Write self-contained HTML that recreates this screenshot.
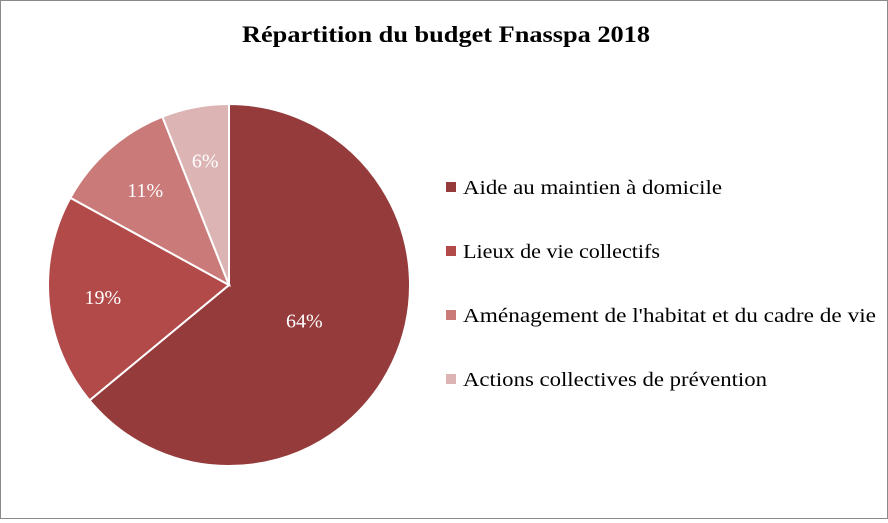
<!DOCTYPE html>
<html><head><meta charset="utf-8"><style>
body{margin:0;background:#fff;}
#c{position:relative;width:886px;height:517px;border:1px solid #8a8a8a;background:#fff;font-family:"Liberation Serif",serif;}
</style></head><body>
<div id="c">
<svg width="886" height="517">
<text x="241" y="41" font-size="23" font-weight="bold" fill="#000" textLength="408" lengthAdjust="spacingAndGlyphs" font-family="Liberation Serif, serif">Répartition du budget Fnasspa 2018</text>
<g id="slices"></g>
<g id="legend"></g>
</svg>
</div>
<script>
const categories=["Aide au maintien à domicile","Lieux de vie collectifs","Aménagement de l'habitat et du cadre de vie","Actions collectives de prévention"];
const values=[64,19,11,6];
const labels=["64%","19%","11%","6%"];
const colors=["#953b3b","#b24a49","#c97a79","#ddb4b4"];
const legendWidths=[259,197,413,304];
const NS="http://www.w3.org/2000/svg";
const cx=228,cy=284,r=181;
const total=values.reduce((a,b)=>a+b,0);
const sg=document.getElementById('slices'),lg=document.getElementById('legend');
function pt(a,rr){return [cx+rr*Math.sin(a),cy-rr*Math.cos(a)];}
let acc=0;
values.forEach((v,i)=>{
  const a0=acc/total*2*Math.PI,a1=(acc+v)/total*2*Math.PI;acc+=v;
  const p0=pt(a0,r),p1=pt(a1,r),large=(a1-a0)>Math.PI?1:0;
  const p=document.createElementNS(NS,'path');
  p.setAttribute('d',`M${cx},${cy} L${p0[0]},${p0[1]} A${r},${r} 0 ${large} 1 ${p1[0]},${p1[1]} Z`);
  p.setAttribute('fill',colors[i]);p.setAttribute('stroke','#fff');p.setAttribute('stroke-width','2');
  
  
  sg.appendChild(p);
  const m=(a0+a1)/2,lp=pt(m,r*(i===0?0.46:0.7));
  const t=document.createElementNS(NS,'text');
  t.setAttribute('x',lp[0]);t.setAttribute('y',lp[1]+7);t.setAttribute('text-anchor','middle');
  t.setAttribute('font-size','20');t.setAttribute('fill','#fff');t.setAttribute('font-family','Liberation Serif, serif');
  t.textContent=labels[i];
  
  
  sg.appendChild(t);
  const y=186+i*64;
  const g=document.createElementNS(NS,'g');
  
  
  const s=document.createElementNS(NS,'rect');
  s.setAttribute('x',445);s.setAttribute('y',y-5);s.setAttribute('width',10);s.setAttribute('height',10);s.setAttribute('fill',colors[i]);
  const lt=document.createElementNS(NS,'text');
  lt.setAttribute('x',462);lt.setAttribute('y',y+7);lt.setAttribute('font-size','20');lt.setAttribute('fill','#000');lt.setAttribute('font-family','Liberation Serif, serif');
  lt.setAttribute('textLength',legendWidths[i]);lt.setAttribute('lengthAdjust','spacingAndGlyphs');
  lt.textContent=categories[i];
  g.appendChild(s);g.appendChild(lt);lg.appendChild(g);
});
</script>
</body></html>
